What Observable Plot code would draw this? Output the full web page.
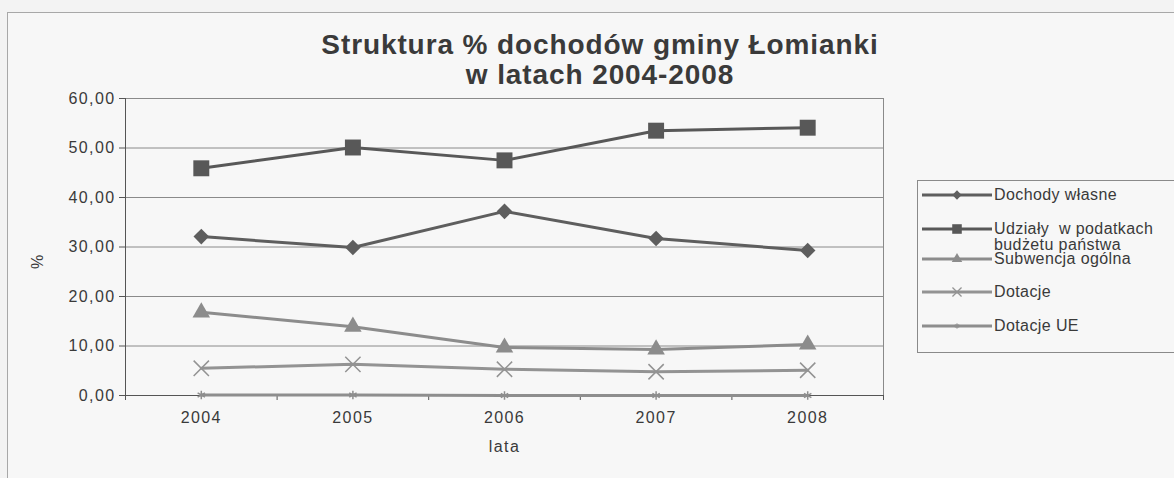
<!DOCTYPE html>
<html><head><meta charset="utf-8">
<script src="https://cdn.jsdelivr.net/npm/d3@7"></script>
<script src="https://cdn.jsdelivr.net/npm/@observablehq/plot@0.6"></script>
<style>
body{margin:0;background:#f3f3f3;font-family:"Liberation Sans",Arial,sans-serif;}
#wrap{position:relative;width:1174px;height:478px;overflow:hidden;background:#f3f3f3;}
#frame{position:absolute;left:7px;top:12px;width:1200px;height:500px;border:1px solid #a8a8a8;background:#f7f7f7;}
#title{position:absolute;left:200px;width:800px;top:30px;text-align:center;font-weight:bold;font-size:28px;letter-spacing:0.9px;line-height:30px;color:#3a3a3a;}
#chart{position:absolute;left:0;top:88px;}
#legend{position:absolute;left:917px;top:180px;width:280px;height:171px;border:1px solid #8a8a8a;}
.li{position:absolute;left:2px;height:20px;font-size:16px;letter-spacing:0.4px;color:#3a3a3a;line-height:16px;}
.li svg{position:absolute;left:0;top:0;}
.li span{position:absolute;left:74px;top:0;white-space:nowrap;}
</style></head>
<body><div id="wrap"><div id="frame"></div>
<div id="title">Struktura % dochodów gminy Łomianki<br>w latach 2004-2008</div>
<div id="chart"></div><div id="legend"></div></div>
<script>
const years = [2004, 2005, 2006, 2007, 2008];
const seriesNames = ["Dochody własne", "Udziały w podatkach budżetu państwa", "Subwencja ogólna", "Dotacje", "Dotacje UE"];
const dochodyWlasne = [32.1, 29.9, 37.2, 31.7, 29.3];
const udzialy = [45.9, 50.1, 47.5, 53.5, 54.1];
const subwencja = [16.8, 13.9, 9.7, 9.3, 10.3];
const dotacje = [5.5, 6.3, 5.3, 4.8, 5.1];
const dotacjeUE = [0.1, 0.1, 0.0, 0.0, 0.0];
const yTicks = [0, 10, 20, 30, 40, 50, 60];

const valuesList = [dochodyWlasne, udzialy, subwencja, dotacje, dotacjeUE];
const colors = ["#5e5e5e", "#585858", "#8c8c8c", "#939393", "#8e8e8e"];
const symbols = ["diamond2", "square", "triangle", "times", "asterisk"];
const d3Symbols = [d3.symbolDiamond2, d3.symbolSquare, d3.symbolTriangle, d3.symbolTimes, d3.symbolAsterisk];
const radii = [7, 9, 6.5, 7, 4];
const stroked = [false, false, false, true, true];

const data = [];
valuesList.forEach((vals, i) => vals.forEach((v, j) => data.push({series: seriesNames[i], year: years[j], value: v, i})));

const fmt = v => d3.format(".2f")(v).replace(".", ",");
const bounds = years.map(y => y - 0.5).concat([years[years.length - 1] + 0.5]);

const marks = [
  Plot.ruleY(yTicks, {y: d => d, stroke: "#8a8a8a", strokeWidth: 1}),
  Plot.ruleX([bounds[bounds.length - 1]], {x: d => d, y1: 0, y2: 60, stroke: "#8a8a8a"}),
  Plot.ruleX([bounds[0]], {x: d => d, y1: 0, y2: 60, stroke: "#555"}),
  Plot.ruleY([0], {y: d => d, stroke: "#555"}),
  Plot.ruleX(bounds, {x: d => d, y1: 0, y2: 0, stroke: "#555", insetBottom: -5}),
  Plot.axisY({ticks: yTicks, tickFormat: fmt, tickSize: 6, tickPadding: 4, fontSize: 16, stroke: "#555", color: "#3a3a3a", label: null}),
  Plot.text(["%"], {frameAnchor: "left", dx: -88, dy: 22, rotate: -90, fontSize: 16, fill: "#3a3a3a"}),
  Plot.axisX({ticks: years, tickFormat: d3.format("d"), tickSize: 0, tickPadding: 16, fontSize: 16, color: "#3a3a3a",
    label: "lata", labelAnchor: "center", labelArrow: "none", labelOffset: 56})
];
valuesList.forEach((vals, i) => {
  const d = data.filter(r => r.i === i);
  marks.push(Plot.line(d, {x: "year", y: "value", stroke: colors[i], strokeWidth: 3}));
  marks.push(Plot.dot(d, {x: "year", y: "value", symbol: () => symbols[i], r: radii[i],
    fill: stroked[i] ? "none" : colors[i], stroke: stroked[i] ? colors[i] : "none", strokeWidth: stroked[i] ? 1.5 : 0}));
});

const chart = Plot.plot({
  width: 900, height: 380,
  marginTop: 10, marginBottom: 73, marginLeft: 125, marginRight: 17,
  style: {fontFamily: "Liberation Sans, Arial, sans-serif", background: "transparent", fontSize: "16px", letterSpacing: "1.4px"},
  x: {type: "linear", domain: [bounds[0], bounds[bounds.length - 1]], axis: null},
  y: {type: "linear", domain: [0, 60], axis: null},
  symbol: {type: "identity"},
  marks
});
document.getElementById("chart").appendChild(chart);

// legend
const legend = document.getElementById("legend");
const tops = [6, 40, 70, 103, 137];
const labelsHtml = ["Dochody własne", "Udziały&nbsp; w podatkach<br>budżetu państwa", "Subwencja ogólna", "Dotacje", "Dotacje UE"];
seriesNames.forEach((name, i) => {
  const div = document.createElement("div");
  div.className = "li";
  div.style.top = tops[i] + "px";
  const sym = d3.symbol(d3Symbols[i], Math.PI * (radii[i] * 0.6) ** 2)();
  div.innerHTML = `<svg width="74" height="18"><line x1="2" x2="72" y1="8" y2="8" stroke="${colors[i]}" stroke-width="3"/>` +
    `<path transform="translate(37,8)" d="${sym}" fill="${stroked[i] ? "none" : colors[i]}" stroke="${stroked[i] ? colors[i] : "none"}" stroke-width="1.3"/></svg>` +
    `<span>${labelsHtml[i]}</span>`;
  legend.appendChild(div);
});
</script></body></html>
